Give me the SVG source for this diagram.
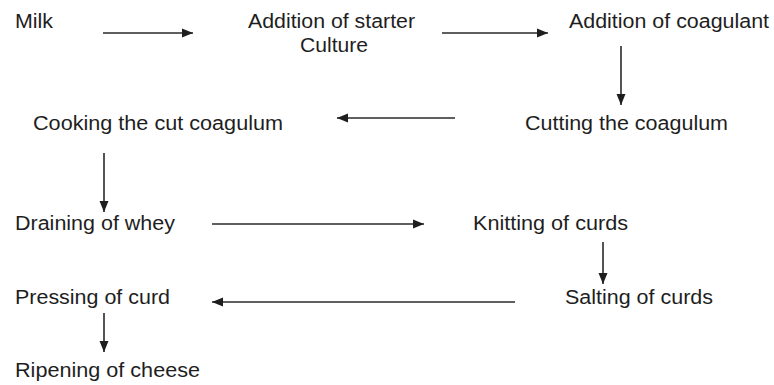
<svg xmlns="http://www.w3.org/2000/svg" width="774" height="385" viewBox="0 0 774 385">
<style>
text{font-family:"Liberation Sans",Arial,sans-serif;font-size:20px;fill:#1e1e1e}
.c line{stroke:#2a2a2a;stroke-width:1.6;marker-end:url(#ah)}
</style>
<defs>
<marker id="ah" markerUnits="userSpaceOnUse" markerWidth="12" markerHeight="10" refX="11" refY="5" orient="auto">
<path d="M0,0.5 L11,5 L0,9.5 Z" fill="#1e1e1e"/>
</marker>
</defs>
<rect width="774" height="385" fill="#fff"/>
<g id="milk"><text x="15" y="28" textLength="38" lengthAdjust="spacingAndGlyphs">Milk</text></g>
<g id="starter"><text x="248" y="28" textLength="167" lengthAdjust="spacingAndGlyphs">Addition of starter</text><text x="300" y="52" textLength="68" lengthAdjust="spacingAndGlyphs">Culture</text></g>
<g id="coagulant"><text x="569" y="28" textLength="200" lengthAdjust="spacingAndGlyphs">Addition of coagulant</text></g>
<g id="cutting"><text x="525" y="130" textLength="203" lengthAdjust="spacingAndGlyphs">Cutting the coagulum</text></g>
<g id="cooking"><text x="33" y="130" textLength="250" lengthAdjust="spacingAndGlyphs">Cooking the cut coagulum</text></g>
<g id="draining"><text x="15" y="230" textLength="160" lengthAdjust="spacingAndGlyphs">Draining of whey</text></g>
<g id="knitting"><text x="473" y="230" textLength="155" lengthAdjust="spacingAndGlyphs">Knitting of curds</text></g>
<g id="salting"><text x="565" y="304" textLength="148" lengthAdjust="spacingAndGlyphs">Salting of curds</text></g>
<g id="pressing"><text x="15" y="304" textLength="155" lengthAdjust="spacingAndGlyphs">Pressing of curd</text></g>
<g id="ripening"><text x="15" y="377" textLength="185" lengthAdjust="spacingAndGlyphs">Ripening of cheese</text></g>
<g id="connectors" class="c">
<line x1="103" y1="33" x2="193" y2="33"/>
<line x1="442" y1="33" x2="548" y2="33"/>
<line x1="621" y1="46" x2="621" y2="105"/>
<line x1="455" y1="118" x2="337" y2="118"/>
<line x1="104" y1="153" x2="104" y2="212"/>
<line x1="212" y1="224" x2="424" y2="224"/>
<line x1="603" y1="242" x2="603" y2="284"/>
<line x1="515" y1="302" x2="212" y2="302"/>
<line x1="104" y1="313" x2="104" y2="352"/>
</g>
</svg>
